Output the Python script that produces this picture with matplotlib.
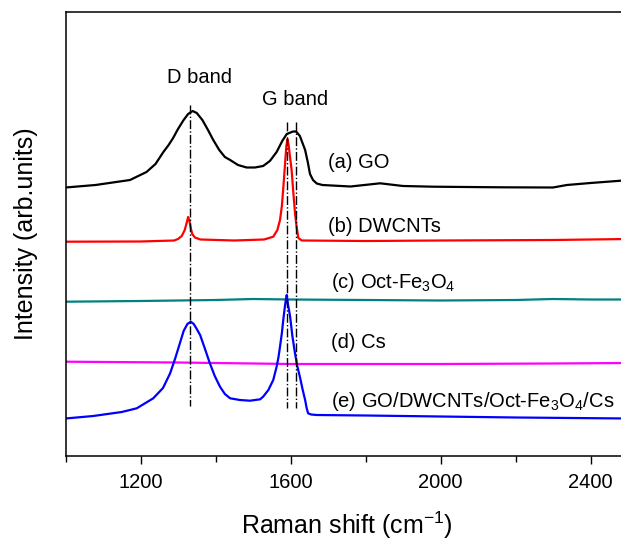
import numpy as np
import matplotlib
matplotlib.use("Agg")
import matplotlib.pyplot as plt
from matplotlib.ticker import MultipleLocator

plt.rcParams['font.family'] = ['Liberation Sans', 'DejaVu Sans']
plt.rcParams['mathtext.default'] = 'regular'

# spectra (wavenumber, intensity in arb. units incl. offset)
go_x = [1000, 1080, 1172, 1216, 1240, 1261, 1275, 1287, 1300, 1315, 1327, 1339,
        1350, 1365, 1380, 1394, 1410, 1425, 1439, 1460, 1483, 1505, 1527, 1545,
        1563, 1578, 1590, 1600, 1607, 1615, 1625, 1632, 1639, 1646, 1652, 1660,
        1670, 1685, 1760, 1839, 1900, 1981, 2159, 2300, 2337, 2400, 2481, 2500]
go_y = [268.5, 271, 276, 284, 292, 304, 311, 318, 327, 336, 342, 345,
        343, 336, 326, 316, 306, 299, 296, 291, 288.5, 288.5, 290, 295,
        304, 315, 322, 323.5, 324.5, 324.5, 320, 313, 306, 294, 282, 276,
        272.5, 271, 269.5, 272.7, 270, 269.3, 268.7, 268.5, 271, 273, 275.3, 275.5]

dw_x = [1000, 1200, 1290, 1300, 1310, 1318, 1323, 1327, 1330, 1334, 1338, 1345,
        1360, 1450, 1530, 1554, 1565, 1572, 1577, 1581, 1586, 1589, 1592, 1595,
        1599, 1603, 1607, 1612, 1616, 1621, 1630, 1800, 2000, 2300, 2500]
dw_y = [214.3, 214.5, 215.5, 217, 220, 226, 233, 239, 236, 228, 222, 218.5,
        216.5, 215.5, 216.5, 219.3, 226, 236, 250, 269, 295, 310, 316.7, 311,
        298, 286, 266, 243, 230, 218, 215.5, 215, 215.5, 216, 217]

fe_x = [1000, 1200, 1400, 1500, 1600, 1800, 2000, 2200, 2300, 2400, 2500]
fe_y = [154.3, 155, 156, 157, 156.5, 156, 155.5, 156, 157, 156.5, 156.5]

cs_x = [1000, 1300, 1600, 2000, 2300, 2500]
cs_y = [94.3, 93.5, 92, 92, 92.5, 93]

mix_x = [1000, 1074, 1150, 1190, 1234, 1260, 1279, 1292, 1305, 1315, 1325, 1334,
         1342, 1350, 1359, 1372, 1385, 1398, 1412, 1425, 1439, 1465, 1492, 1519,
         1527, 1541, 1554, 1563, 1568, 1572, 1577, 1581, 1585, 1588, 1590, 1593,
         1596, 1599, 1605, 1612, 1618, 1625, 1632, 1639, 1643, 1647, 1655, 1670,
         1800, 2000, 2200, 2500]
mix_y = [37.5, 40, 44, 47.7, 57.7, 68, 82.7, 97, 112.7, 125, 132, 134.3,
         132, 127, 121, 107, 92.7, 80, 69.3, 62, 57.7, 56, 55.3, 56.7,
         59.3, 66, 76, 89.3, 99, 109.3, 123, 137, 149.3, 157, 161, 152,
         146, 139.3, 120, 102.7, 90, 79.3, 67, 56, 48, 42.7, 41.5, 41,
         40.5, 39.5, 38.5, 37.5]

labels = ['(a) GO', '(b) DWCNTs', '(c) Oct-Fe$_3$O$_4$', '(d) Cs',
          '(e) GO/DWCNTs/Oct-Fe$_3$O$_4$/Cs']
label_x = [1700, 1700, 1709, 1709, 1709]
label_y = [288, 224.3, 168, 107.7, 49.3]

d_band = 1333
g_band = [1590, 1614]

fig = plt.figure(figsize=(6.21, 5.41), dpi=100)
ax = fig.add_axes([65.5 / 621, 85 / 541, (628 - 65.5) / 621, 444 / 541])

ax.plot(go_x, go_y, color='black', lw=1.6)
ax.plot(dw_x, dw_y, color='red', lw=1.6)
ax.plot(fe_x, fe_y, color='#008080', lw=1.6)
ax.plot(cs_x, cs_y, color='magenta', lw=1.6)
ax.plot(mix_x, mix_y, color='blue', lw=1.6)

ax.plot([d_band, d_band], [351, 50], color='black', lw=1, ls='-.')
for g in g_band:
    ax.plot([g, g], [334, 48], color='black', lw=1, ls='-.')

ax.text(1358, 372.7, 'D band', fontsize=14.5, ha='center', va='baseline')
ax.text(1612, 351, 'G band', fontsize=14.5, ha='center', va='baseline')
for t, x, y in zip(labels, label_x, label_y):
    ax.text(x, y, t, fontsize=14.5, ha='left', va='baseline')

ax.set_xlim(1000, 2500)
ax.set_ylim(0, 444)
ax.xaxis.set_minor_locator(MultipleLocator(200))
ax.set_xticks([1200, 1600, 2000, 2400])
ax.tick_params(axis='x', which='major', length=6, width=1, labelsize=14.5,
               direction='out', pad=6)
ax.tick_params(axis='x', which='minor', length=4, width=1, direction='out')
ax.set_yticks([])
ax.spines['right'].set_visible(False)
for s in ['left', 'top', 'bottom']:
    ax.spines[s].set_linewidth(1.1)

ax.set_xlabel('Raman shift (cm$^{-1}$)', fontsize=18, labelpad=13)
ax.set_ylabel('Intensity (arb.units)', fontsize=18, labelpad=20)

fig.savefig('out.png', dpi=100)
